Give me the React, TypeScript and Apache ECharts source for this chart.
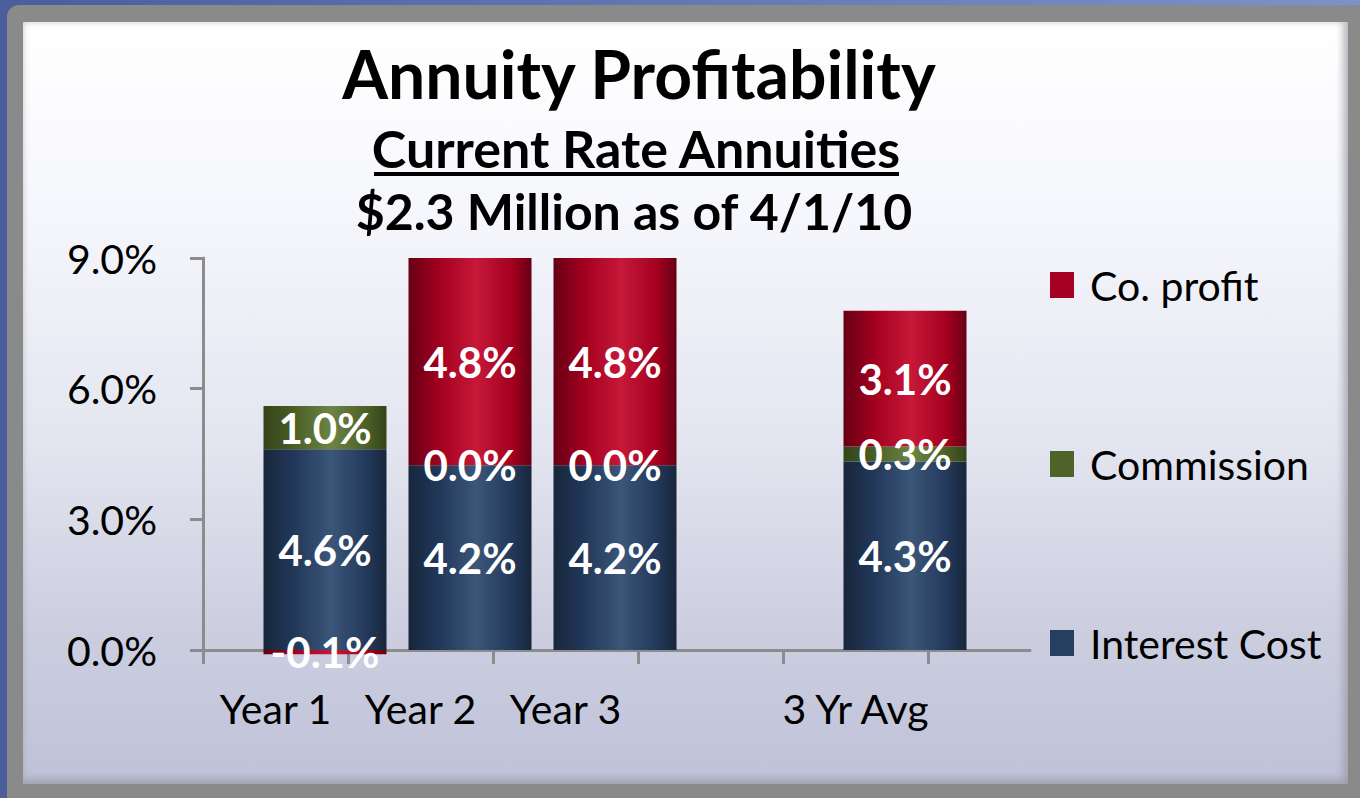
import React, { useEffect, useRef } from "react";
import * as echarts from "echarts";

const categories = ["Year 1", "Year 2", "Year 3", "", "3 Yr Avg"];
const interestCost = [4.61, 4.24, 4.24, null, 4.33];
const commission = [0.99, 0.0, 0.0, null, 0.34];
const coProfit = [-0.1, 4.76, 4.76, null, 3.12];
const seriesNames = ["Co. profit", "Commission", "Interest Cost"];
const yMin = 0;
const yMax = 9;
const yInterval = 3;

const FONT = "Lato, 'Open Sans', sans-serif";
const GRAY = "#8c8c8c";

function cyl(dark: string, mid: string, light: string) {
  return new echarts.graphic.LinearGradient(0, 0, 1, 0, [
    { offset: 0, color: dark },
    { offset: 0.25, color: mid },
    { offset: 0.55, color: light },
    { offset: 0.85, color: mid },
    { offset: 1, color: dark },
  ]);
}

export default function App() {
  const ref = useRef<HTMLDivElement>(null);
  useEffect(() => {
    if (!ref.current) return;
    const chart = echarts.init(ref.current, null, { renderer: "svg" });
    const label = {
      show: true,
      position: "inside" as const,
      color: "#fff",
      fontFamily: FONT,
      fontWeight: "bold" as const,
      fontSize: 42,
      formatter: (p: any) =>
        p.value == null ? "" : Number(p.value).toFixed(1) + "%",
    };
    const lineStyle = { color: GRAY, width: 3 };
    chart.setOption({
      animation: false,
      backgroundColor: "transparent",
      graphic: [
        {
          type: "text",
          x: 639,
          y: 73,
          style: {
            text: "Annuity Profitability",
            font: `bold 66px ${FONT}`,
            fill: "#000",
            textAlign: "center",
            textVerticalAlign: "middle",
            verticalAlign: "middle",
          },
        },
        {
          type: "text",
          x: 636,
          y: 148,
          style: {
            text: "Current Rate Annuities",
            font: `bold 52px ${FONT}`,
            fill: "#000",
            textAlign: "center",
            textVerticalAlign: "middle",
            verticalAlign: "middle",
          },
        },
        {
          type: "rect",
          shape: { x: 374, y: 172, width: 525, height: 4 },
          style: { fill: "#000" },
        },
        {
          type: "text",
          x: 634,
          y: 211,
          style: {
            text: "$2.3 Million as of 4/1/10",
            font: `bold 50px ${FONT}`,
            fill: "#000",
            textAlign: "center",
            textVerticalAlign: "middle",
            verticalAlign: "middle",
          },
        },
      ],
      legend: {
        orient: "vertical",
        left: 1045,
        top: 255,
        itemWidth: 24,
        itemHeight: 26,
        itemGap: 129,
        icon: "rect",
        textStyle: {
          fontFamily: FONT,
          fontSize: 41,
          color: "#000",
          lineHeight: 50,
          padding: [0, 0, 0, 11],
        },
        data: [
          { name: seriesNames[0], itemStyle: { color: "#a50021" } },
          { name: seriesNames[1], itemStyle: { color: "#4f6228" } },
          { name: seriesNames[2], itemStyle: { color: "#243f60" } },
        ],
      },
      grid: [
        { left: 203, right: 330, top: 258, bottom: 148 },
        { left: 203, right: 432, top: 258, bottom: 148 },
        { left: 252.5, right: 382.5, top: 258, bottom: 148 },
      ],
      xAxis: [
        {
          gridIndex: 0,
          type: "value",
          min: 0,
          max: 1,
          axisLine: { show: true, onZero: false, lineStyle },
          axisTick: { show: false },
          axisLabel: { show: false },
          splitLine: { show: false },
        },
        {
          gridIndex: 1,
          type: "category",
          data: categories,
          boundaryGap: true,
          axisLine: { show: false },
          axisTick: { show: true, length: 14, lineStyle, interval: 0 },
          axisLabel: {
            interval: 0,
            margin: 38,
            fontFamily: FONT,
            fontSize: 41,
            color: "#000",
          },
        },
        {
          gridIndex: 2,
          type: "category",
          data: categories,
          show: false,
        },
      ],
      yAxis: [
        {
          gridIndex: 0,
          type: "value",
          min: yMin,
          max: yMax,
          interval: yInterval,
          axisLine: { show: true, onZero: false, lineStyle },
          axisTick: { show: true, length: 13, lineStyle },
          axisLabel: {
            margin: 46,
            fontFamily: FONT,
            fontSize: 41,
            color: "#000",
            formatter: (v: number) => v.toFixed(1) + "%",
          },
          splitLine: {
            show: true,
            lineStyle: {
              color: GRAY,
              width: 3,
              shadowColor: "rgba(180,180,190,0.9)",
              shadowOffsetY: 3,
              shadowBlur: 0,
            },
          },
        },
        { gridIndex: 1, type: "value", min: yMin, max: yMax, show: false },
        { gridIndex: 2, type: "value", min: yMin, max: yMax, show: false },
      ],
      series: [
        {
          name: seriesNames[2],
          type: "bar",
          stack: "total",
          xAxisIndex: 2,
          yAxisIndex: 2,
          barWidth: 123,
          data: interestCost,
          itemStyle: { color: cyl("#17263b", "#22385a", "#3b5678") },
          label,
        },
        {
          name: seriesNames[1],
          type: "bar",
          stack: "total",
          xAxisIndex: 2,
          yAxisIndex: 2,
          barWidth: 123,
          data: commission,
          itemStyle: { color: cyl("#34431a", "#4a5e26", "#6d8444") },
          label,
        },
        {
          name: seriesNames[0],
          type: "bar",
          stack: "total",
          xAxisIndex: 2,
          yAxisIndex: 2,
          barWidth: 123,
          clip: false,
          data: coProfit,
          itemStyle: { color: cyl("#650014", "#a3001f", "#c71838") },
          label,
        },
      ],
    });
    return () => chart.dispose();
  }, []);

  return (
    <div
      style={{
        position: "fixed",
        left: 0,
        top: 0,
        width: 1360,
        height: 798,
        background: "linear-gradient(to right, #4a5e9b, #7e91c9)",
        overflow: "hidden",
      }}
    >
      <div
        style={{
          position: "absolute",
          left: 7,
          top: 5,
          right: 0,
          bottom: 0,
          background: "#8a8a8a",
          borderTopLeftRadius: 12,
        }}
      />
      <div
        style={{
          position: "absolute",
          left: 23,
          top: 22,
          width: 1325,
          height: 762,
          background:
            "linear-gradient(to bottom, #ffffff 0%, #f6f7fc 25%, #e3e5f0 55%, #ccceE0 80%, #bfc2d8 100%)",
          boxShadow: "inset -6px 0 6px rgba(150,150,160,0.5), inset 0 -6px 6px rgba(150,150,160,0.5)",
        }}
      />
      <div
        ref={ref}
        style={{ position: "absolute", left: 0, top: 0, width: 1360, height: 798 }}
      />
    </div>
  );
}
